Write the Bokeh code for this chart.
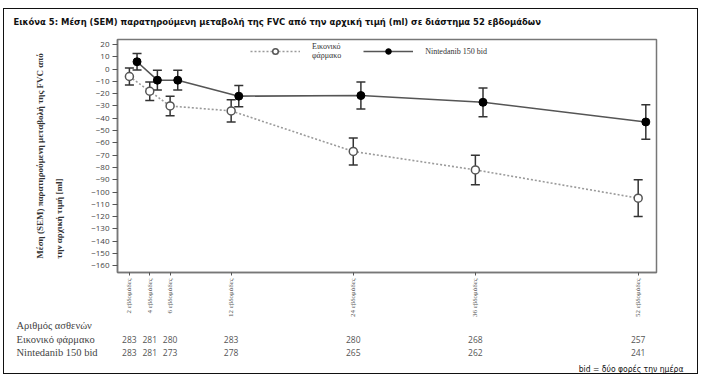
import math
from bokeh.plotting import figure
from bokeh.layouts import column
from bokeh.models import (Range1d, FixedTicker, ColumnDataSource, Title,
                          Whisker, TeeHead, Legend, LegendItem, InlineStyleSheet)
from bokeh.core.properties import value
from bokeh.embed import file_html
from bokeh.resources import INLINE

# ---- data ----
weeks = [2, 4, 6, 12, 24, 36, 52]
week_labels = ["2 εβδομάδες", "4 εβδομάδες", "6 εβδομάδες", "12 εβδομάδες",
               "24 εβδομάδες", "36 εβδομάδες", "52 εβδομάδες"]
placebo_mean = [-6, -18, -30, -34, -67, -82, -105]
placebo_sem = [7, 7.5, 8, 9, 11, 12, 15]
nin_mean = [6, -9, -9, -22, -21.5, -27, -43]
nin_sem = [6.7, 8, 8, 8.7, 11, 11.7, 14]
placebo_n = [283, 281, 280, 283, 280, 268, 257]
nin_n = [283, 281, 273, 278, 265, 262, 241]
y_ticks = list(range(-160, 21, 10))

title_text = "Εικόνα 5: Μέση (SEM) παρατηρούμενη μεταβολή της FVC από την αρχική τιμή (ml) σε διάστημα 52 εβδομάδων"
ylab1 = "Μέση (SEM) παρατηρούμενη μεταβολή της FVC από"
ylab2 = "την αρχική τιμή [ml]"
placebo_name = "Εικονικό\nφάρμακο"
nin_name = "Nintedanib 150 bid"
table_title = "Αριθμός ασθενών"
row_names = ["Εικονικό φάρμακο", "Nintedanib 150 bid"]
footnote = "bid = δύο φορές την ημέρα"

# ---- layout constants (canvas px) ----
W = 702
H_MAIN, H_TAB = 320, 56
FL, FR, FT, FB = 117, 656, 39, 272
DODGE = 0.75
X0, X1 = 0.83, 53.8

COND = "Liberation Sans Narrow, DejaVu Sans Condensed, sans-serif"
SERIF = "Liberation Serif, DejaVu Serif, serif"
SANS = "Open Sans, DejaVu Sans, sans-serif"

p = figure(width=W, height=H_MAIN, output_backend="svg", toolbar_location=None,
           x_range=Range1d(X0, X1), y_range=Range1d(-165.5, 24.1),
           min_border_left=FL, min_border_right=W - FR,
           min_border_top=FT, min_border_bottom=H_MAIN - FB)
p.background_fill_color = "white"
p.border_fill_color = "white"
p.outline_line_color = "#777777"
p.outline_line_width = 1.5
p.xgrid.visible = False
p.ygrid.visible = False

# title
p.title.text = title_text
p.title.align = "left"
p.title.vertical_align = "top"
p.title.offset = 13 - FL
p.title.text_font = COND
p.title.text_font_size = "9.4px"
p.title.text_font_style = "bold"
p.title.text_color = "#111111"
p.title.standoff = 22

# axes
p.yaxis.ticker = FixedTicker(ticks=y_ticks)
p.yaxis.major_tick_out = 5
p.yaxis.major_tick_in = 0
p.yaxis.minor_tick_out = 0
p.yaxis.minor_tick_in = 0
p.yaxis.axis_line_color = "#777777"
p.yaxis.axis_line_width = 1.5
p.yaxis.major_tick_line_color = "#555555"
p.yaxis.major_label_text_font = SANS
p.yaxis.major_label_text_font_size = "8px"
p.yaxis.major_label_text_color = "#444444"
p.yaxis.major_label_standoff = 3

p.xaxis.ticker = FixedTicker(ticks=weeks)
p.xaxis.major_label_overrides = {w: l for w, l in zip(weeks, week_labels)}
p.xaxis.major_label_orientation = math.pi / 2
p.xaxis.major_tick_out = 3
p.xaxis.major_tick_in = 0
p.xaxis.minor_tick_out = 0
p.xaxis.minor_tick_in = 0
p.xaxis.axis_line_color = "#777777"
p.xaxis.axis_line_width = 1.5
p.xaxis.major_tick_line_color = "#555555"
p.xaxis.major_label_text_font = SERIF
p.xaxis.major_label_text_font_size = "7px"
p.xaxis.major_label_text_color = "#555555"
p.xaxis.major_label_standoff = 3

# y axis label (two lines, vertical title on the left)
ytitle = Title(text=ylab1 + "\n" + ylab2, align="center", text_font=SERIF,
               text_font_size="9px", text_font_style="bold", text_color="#333333",
               text_line_height=1.9, standoff=50)
p.add_layout(ytitle, "left")

# data sources
nin_x = [w + DODGE for w in weeks]
src_p = ColumnDataSource(dict(x=weeks, y=placebo_mean,
                              lo=[m - s for m, s in zip(placebo_mean, placebo_sem)],
                              hi=[m + s for m, s in zip(placebo_mean, placebo_sem)]))
src_n = ColumnDataSource(dict(x=nin_x, y=nin_mean,
                              lo=[m - s for m, s in zip(nin_mean, nin_sem)],
                              hi=[m + s for m, s in zip(nin_mean, nin_sem)]))

for src in (src_p, src_n):
    wk = Whisker(source=src, base="x", upper="hi", lower="lo", dimension="height",
                 line_color="#333333", line_width=1.5,
                 upper_head=TeeHead(size=9, line_color="#333333", line_width=1.5),
                 lower_head=TeeHead(size=9, line_color="#333333", line_width=1.5))
    p.add_layout(wk)

lp = p.line("x", "y", source=src_p, line_color="#9a9a9a", line_width=1.6, line_dash="2 2")
sp = p.scatter("x", "y", source=src_p, size=8, marker="circle", fill_color="white",
               line_color="#555555", line_width=1.5)
ln = p.line("x", "y", source=src_n, line_color="#555555", line_width=1.6)
sn = p.scatter("x", "y", source=src_n, size=8, marker="circle", fill_color="black",
               line_color="black")

legend = Legend(items=[LegendItem(label=placebo_name, renderers=[lp, sp]),
                       LegendItem(label=nin_name, renderers=[ln, sn])],
                orientation="horizontal", location=(133, 212),
                glyph_width=50, glyph_height=14, label_standoff=12, spacing=22,
                padding=0, margin=0, background_fill_alpha=0, border_line_alpha=0,
                label_text_font=SERIF, label_text_font_size="8px",
                label_text_color="#333333")
p.add_layout(legend)

# ---- patient count table (figure spanning the full width, same week scale) ----
px_per_week = (FR - FL) / (X1 - X0)
TX0 = X0 - FL / px_per_week
TX1 = X1 + (W - FR) / px_per_week
t = figure(width=W, height=H_TAB, output_backend="svg", toolbar_location=None,
           x_range=Range1d(TX0, TX1), y_range=Range1d(H_MAIN + H_TAB, H_MAIN),
           min_border=0, x_axis_location=None, y_axis_location=None)
t.outline_line_color = None
t.background_fill_color = "white"
t.border_fill_color = "white"
t.xgrid.visible = False
t.ygrid.visible = False
if "frame_align" in t.properties():
    t.frame_align = False
    p.frame_align = False

label_x = TX0 + 16 / px_per_week
row_y = [339, 352]
t.text(x=[label_x], y=[325], text=[table_title], text_font=value(SERIF),
       text_font_size="10.5px", text_color="#444444", text_baseline="middle")
t.text(x=[label_x] * 2, y=row_y, text=row_names, text_font=value(SERIF),
       text_font_size="10.5px", text_color="#444444", text_baseline="middle")
for counts, yy in zip([placebo_n, nin_n], row_y):
    t.text(x=weeks, y=[yy] * len(weeks), text=[str(c) for c in counts],
           text_font=value(SANS), text_font_size="8.5px", text_color="#555555",
           text_align="center", text_baseline="middle")
t.text(x=[TX0 + 683 / px_per_week], y=[368], text=[footnote], text_font=value(COND),
       text_font_size="8.5px", text_color="#111111", text_align="right",
       text_baseline="middle")

frame_css = InlineStyleSheet(css=""":host::after { content: ''; position: absolute;
  left: 3px; top: 8px; width: 695px; height: 366px; border: 1.5px solid #111;
  box-sizing: border-box; pointer-events: none; z-index: 10; }
:host { position: relative; }""")
layout = column(p, t, spacing=0, stylesheets=[frame_css])

open("out.html", "w").write(file_html(layout, INLINE))
